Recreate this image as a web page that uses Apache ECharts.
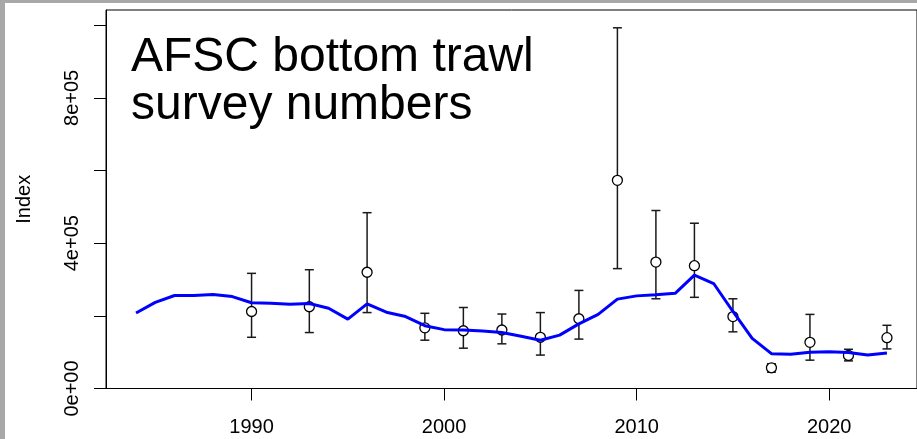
<!DOCTYPE html>
<html>
<head>
<meta charset="utf-8">
<script src="https://cdn.jsdelivr.net/npm/echarts@6/dist/echarts.min.js"></script>
<style>
html,body{margin:0;padding:0;background:#fff;}
#chart{width:917px;height:439px;}
</style>
</head>
<body>
<div id="chart"></div>
<script>
// Model fit (blue line), 1984-2023
const fitYears = [1984,1985,1986,1987,1988,1989,1990,1991,1992,1993,1994,1995,1996,1997,1998,1999,2000,2001,2002,2003,2004,2005,2006,2007,2008,2009,2010,2011,2012,2013,2014,2015,2016,2017,2018,2019,2020,2021,2022,2023];
const fitValues = [208000,237000,256000,256000,259000,253000,236000,235000,232000,234000,221000,191000,233000,210000,198000,173000,162000,161000,158000,154000,144000,133000,147000,178000,204000,246000,255000,258000,262000,312000,289000,212000,138000,96000,94000,100000,101000,99000,92000,98000];
// Survey observations with intervals
const obsYears = [1990,1993,1996,1999,2001,2003,2005,2007,2009,2011,2013,2015,2017,2019,2021,2023];
const obsValues = [212000,225000,320000,167000,159000,161000,141000,192000,573000,348000,338000,198000,57000,127000,91000,140000];
const obsLow = [141000,154000,209000,133000,111000,123000,92000,136000,330000,247000,251000,156000,45000,78000,76000,109000];
const obsHigh = [317000,327000,484000,207000,223000,205000,209000,270000,993000,490000,455000,247000,68000,204000,108000,174000];
// Axis ticks
const xTickValues = [1990,2000,2010,2020];
const yTickValues = [0,200000,400000,600000,800000,1000000];
const yLabelValues = [0,400000,800000];
const yLabelTexts = ['0e+00','4e+05','8e+05'];

const titleText = 'AFSC bottom trawl\nsurvey numbers';
const FONT = '"Liberation Sans", Arial, sans-serif';

const chart = echarts.init(document.getElementById('chart'), null, {renderer:'canvas'});

const fitData = fitYears.map((y,i)=>[y, fitValues[i]]);
const obsData = obsYears.map((y,i)=>[y, obsValues[i]]);
const errData = obsYears.map((y,i)=>[y, obsLow[i], obsHigh[i]]);

chart.setOption({
  animation:false,
  backgroundColor:'#ffffff',
  title:{
    text:titleText, left:131, top:34, padding:0,
    textStyle:{fontFamily:FONT, fontSize:48, fontWeight:'normal', color:'#000', lineHeight:48}
  },
  graphic:[
    {type:'rect', left:0, top:0, shape:{width:917, height:3}, style:{fill:'#a8a8a8'}, z:100},
    {type:'rect', left:0, top:0, shape:{width:5, height:439}, style:{fill:'#a8a8a8'}, z:100}
  ],
  grid:{left:106, top:10, width:818, height:378.5, show:true, borderColor:'#000', borderWidth:1, backgroundColor:'transparent'},
  xAxis:{
    type:'value', min:1982.44, max:2024.56,
    splitLine:{show:false},
    axisLine:{show:true, onZero:false, lineStyle:{color:'#000', width:1}},
    axisTick:{show:true, customValues:xTickValues, length:12, lineStyle:{color:'#000', width:1}},
    axisLabel:{customValues:xTickValues, margin:29, color:'#000', fontFamily:FONT, fontSize:20, formatter:v=>String(v)}
  },
  yAxis:{
    type:'value', min:0, max:1042000,
    name:'Index', nameLocation:'middle', nameGap:72, nameRotate:90,
    nameTextStyle:{color:'#000', fontFamily:FONT, fontSize:20},
    splitLine:{show:false},
    axisLine:{show:true, lineStyle:{color:'#000', width:1}},
    axisTick:{show:true, customValues:yTickValues, length:12, lineStyle:{color:'#000', width:1}},
    axisLabel:{customValues:yLabelValues, rotate:90, margin:24, color:'#000', fontFamily:FONT, fontSize:20,
      formatter:v=>{const i=yLabelValues.indexOf(v); return i>=0?yLabelTexts[i]:'';}}
  },
  series:[
    {
      type:'custom', data:errData, z:2,
      renderItem:(params, api)=>{
        const x = api.value(0);
        const lo = api.coord([x, api.value(1)]);
        const hi = api.coord([x, api.value(2)]);
        const w = 4.5;
        const st = {stroke:'#1a1a1a', lineWidth:1.5};
        return {type:'group', children:[
          {type:'line', shape:{x1:lo[0], y1:lo[1], x2:hi[0], y2:hi[1]}, style:st},
          {type:'line', shape:{x1:lo[0]-w, y1:lo[1], x2:lo[0]+w, y2:lo[1]}, style:st},
          {type:'line', shape:{x1:hi[0]-w, y1:hi[1], x2:hi[0]+w, y2:hi[1]}, style:st}
        ]};
      }
    },
    {
      type:'scatter', data:obsData, z:3, symbol:'circle', symbolSize:10,
      itemStyle:{color:'#ffffff', borderColor:'#000', borderWidth:1.3, opacity:1}
    },
    {
      type:'line', data:fitData, z:4, symbol:'none', showSymbol:false,
      lineStyle:{color:'#0000ff', width:3}
    }
  ]
});
</script>
</body>
</html>
